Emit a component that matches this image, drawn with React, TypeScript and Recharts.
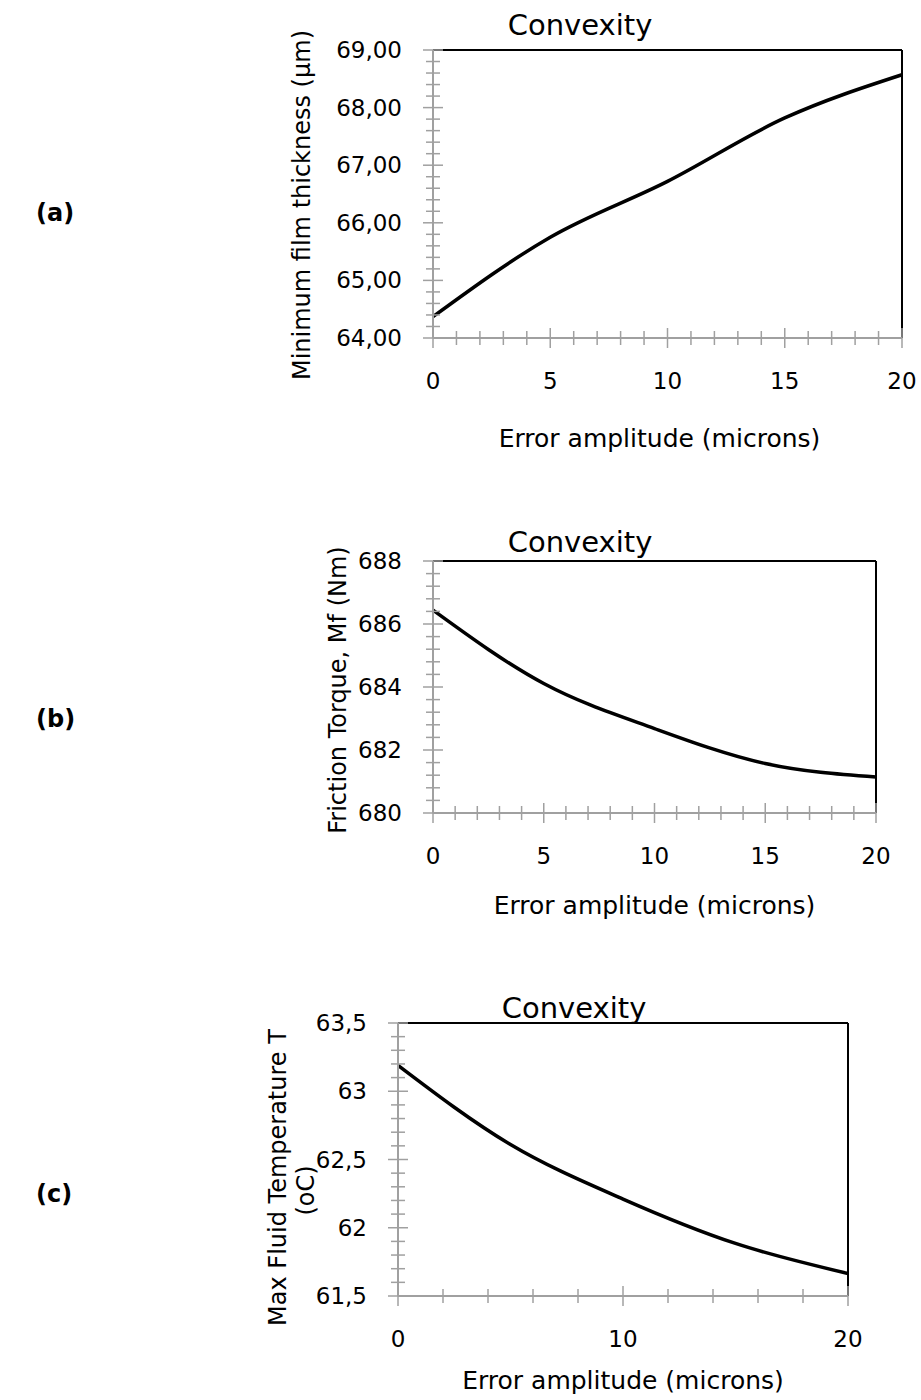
import React from "react";
import { Label, Line, LineChart, ReferenceLine, XAxis, YAxis } from "recharts";

const FONT = "'DejaVu Sans', sans-serif";
const AXIS_GREY = "#a0a0a0";

// error amplitude (microns) on the x axis
const errorAmplitude = [0, 5, 10, 15, 20];

// (a) minimum film thickness, µm
const minFilmThickness = [64.37, 65.75, 66.72, 67.82, 68.57];
// (b) friction torque, Nm
const frictionTorque = [686.44, 684.11, 682.68, 681.57, 681.14];
// (c) max fluid temperature, oC
const maxFluidTemp = [63.19, 62.61, 62.21, 61.885, 61.665];

const filmLabels = [64, 65, 66, 67, 68, 69];
const torqueLabels = [680, 682, 684, 686, 688];
const tempLabels = [61.5, 62, 62.5, 63, 63.5];
const amplitudeLabelsAB = [0, 5, 10, 15, 20];
const amplitudeLabelsC = [0, 10, 20];

function steps(from: number, to: number, step: number) {
  const out: number[] = [];
  const n = Math.round((to - from) / step);
  for (let i = 0; i <= n; i++) out.push(Number((from + i * step).toFixed(4)));
  return out;
}

function isMajor(labels: number[], v: number) {
  return labels.some((m) => Math.abs(m - v) < 1e-6);
}

const comma = (v: number, digits?: number) =>
  (digits === undefined ? String(v) : v.toFixed(digits)).replace(".", ",");

function YTick(props: any) {
  const { x, y, payload, labels, format } = props;
  const major = isMajor(labels, payload.value);
  const len = major ? 10 : 7;
  return (
    <g>
      <line x1={x - len} x2={x + len} y1={y} y2={y} stroke={AXIS_GREY} strokeWidth={1.5} />
      {major && (
        <text
          x={x - 31}
          y={y}
          textAnchor="end"
          dominantBaseline="central"
          fontSize={23}
          fontFamily={FONT}
          fill="#000"
        >
          {format(payload.value)}
        </text>
      )}
    </g>
  );
}

function XTick(props: any) {
  const { x, y, payload, labels } = props;
  const major = isMajor(labels, payload.value);
  const len = major ? 10 : 7;
  return (
    <g>
      <line x1={x} x2={x} y1={y - len} y2={y + len} stroke={AXIS_GREY} strokeWidth={1.5} />
      {major && (
        <text
          x={x}
          y={y + 43}
          textAnchor="middle"
          dominantBaseline="central"
          fontSize={23}
          fontFamily={FONT}
          fill="#000"
        >
          {payload.value}
        </text>
      )}
    </g>
  );
}

type TitleLine = { text: string; dx: number; dy: number };

type PanelProps = {
  top: number;
  margin: { top: number; right: number; left: number; bottom: number };
  xAxisHeight: number;
  values: number[];
  yDomain: [number, number];
  yStep: number;
  yLabels: number[];
  yFormat: (v: number) => string;
  xStep: number;
  xLabels: number[];
  yTitle: TitleLine[];
  xTitleDx: number;
  xTitleDy: number;
};

function Panel(p: PanelProps) {
  const data = errorAmplitude.map((x, i) => ({ x, value: p.values[i] }));
  return (
    <div style={{ position: "absolute", left: 0, top: p.top }}>
      <LineChart width={921} height={460} data={data} margin={p.margin}>
        <ReferenceLine y={p.yDomain[1]} stroke="#000" strokeWidth={2} />
        <ReferenceLine x={20} stroke="#000" strokeWidth={2} />
        <XAxis
          dataKey="x"
          type="number"
          domain={[0, 20]}
          ticks={steps(0, 20, p.xStep)}
          interval={0}
          height={p.xAxisHeight}
          tickSize={0}
          tickMargin={0}
          tickLine={false}
          axisLine={{ stroke: AXIS_GREY, strokeWidth: 2 }}
          tick={(t: any) => <XTick {...t} labels={p.xLabels} />}
        >
          <Label
            content={(l: any) => {
              const vb = l.viewBox;
              return (
                <text
                  x={vb.x + vb.width / 2 + p.xTitleDx}
                  y={vb.y + p.xTitleDy}
                  textAnchor="middle"
                  dominantBaseline="central"
                  fontSize={25}
                  fontFamily={FONT}
                  fill="#000"
                >
                  Error amplitude (microns)
                </text>
              );
            }}
          />
        </XAxis>
        <YAxis
          type="number"
          domain={p.yDomain}
          ticks={steps(p.yDomain[0], p.yDomain[1], p.yStep)}
          interval={0}
          width={120}
          tickSize={0}
          tickMargin={0}
          tickLine={false}
          axisLine={{ stroke: AXIS_GREY, strokeWidth: 2 }}
          tick={(t: any) => <YTick {...t} labels={p.yLabels} format={p.yFormat} />}
        >
          <Label
            content={(l: any) => {
              const vb = l.viewBox;
              const right = vb.x + vb.width;
              const mid = vb.y + vb.height / 2;
              return (
                <g>
                  {p.yTitle.map((line) => {
                    const cx = right + line.dx;
                    const cy = mid + line.dy;
                    return (
                      <text
                        key={line.text}
                        x={cx}
                        y={cy}
                        transform={`rotate(-90, ${cx}, ${cy})`}
                        textAnchor="middle"
                        dominantBaseline="central"
                        fontSize={24}
                        fontFamily={FONT}
                        fill="#000"
                      >
                        {line.text}
                      </text>
                    );
                  })}
                </g>
              );
            }}
          />
        </YAxis>
        <Line
          type="monotone"
          dataKey="value"
          stroke="#000"
          strokeWidth={3.5}
          dot={false}
          activeDot={false}
          isAnimationActive={false}
        />
      </LineChart>
    </div>
  );
}

function ChartTitle({ cx, baseline }: { cx: number; baseline: number }) {
  return (
    <div
      style={{
        position: "absolute",
        left: cx - 150,
        top: baseline - 24.5,
        width: 300,
        textAlign: "center",
        fontFamily: FONT,
        fontSize: 29,
        lineHeight: "29px",
      }}
    >
      Convexity
    </div>
  );
}

function PanelTag({ text, cy }: { text: string; cy: number }) {
  return (
    <div
      style={{
        position: "absolute",
        left: 36,
        top: cy - 14,
        fontFamily: FONT,
        fontWeight: "bold",
        fontSize: 24,
        lineHeight: "28px",
      }}
    >
      {text}
    </div>
  );
}

export default function App() {
  return (
    <div
      style={{
        position: "absolute",
        left: 0,
        top: 0,
        width: 921,
        height: 1400,
        background: "#fff",
        fontFamily: FONT,
      }}
    >
      <Panel
        top={0}
        margin={{ top: 50, right: 19, left: 313, bottom: 0 }}
        xAxisHeight={122}
        values={minFilmThickness}
        yDomain={[64, 69]}
        yStep={0.2}
        yLabels={filmLabels}
        yFormat={(v) => comma(v, 2)}
        xStep={1}
        xLabels={amplitudeLabelsAB}
        yTitle={[{ text: "Minimum film thickness (µm)", dx: -131, dy: 11 }]}
        xTitleDx={-8}
        xTitleDy={100}
      />
      <Panel
        top={470}
        margin={{ top: 91, right: 45, left: 313, bottom: 0 }}
        xAxisHeight={117}
        values={frictionTorque}
        yDomain={[680, 688]}
        yStep={0.4}
        yLabels={torqueLabels}
        yFormat={(v) => String(v)}
        xStep={1}
        xLabels={amplitudeLabelsAB}
        yTitle={[{ text: "Friction Torque, Mf (Nm)", dx: -95, dy: 3 }]}
        xTitleDx={0}
        xTitleDy={92}
      />
      <Panel
        top={940}
        margin={{ top: 83, right: 73, left: 278, bottom: 0 }}
        xAxisHeight={104}
        values={maxFluidTemp}
        yDomain={[61.5, 63.5]}
        yStep={0.1}
        yLabels={tempLabels}
        yFormat={(v) => comma(v)}
        xStep={2}
        xLabels={amplitudeLabelsC}
        yTitle={[
          { text: "Max Fluid Temperature T", dx: -120, dy: 18 },
          { text: "(oC)", dx: -92, dy: 31 },
        ]}
        xTitleDx={0}
        xTitleDy={84}
      />
      <ChartTitle cx={580} baseline={35} />
      <ChartTitle cx={580} baseline={552} />
      <ChartTitle cx={574} baseline={1018} />
      <PanelTag text="(a)" cy={213} />
      <PanelTag text="(b)" cy={719} />
      <PanelTag text="(c)" cy={1194} />
    </div>
  );
}
